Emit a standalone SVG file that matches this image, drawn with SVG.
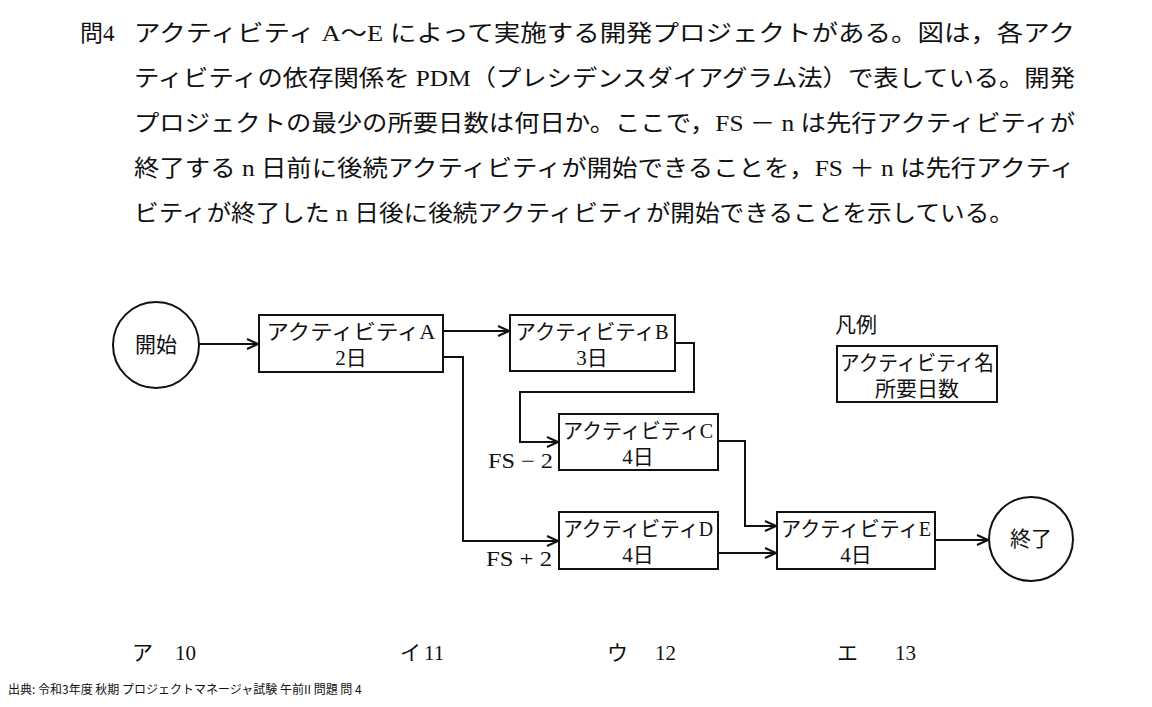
<svg xmlns="http://www.w3.org/2000/svg" width="1152" height="707" viewBox="0 0 1152 707">
<style>
text{font-family:"Liberation Serif","Noto Sans CJK JP",serif;fill:#111}
.q{font-size:23px}
.n{font-size:21px;text-anchor:middle}
.l{font-size:21px}
.box{fill:#fff;stroke:#111;stroke-width:2}
.c{fill:none;stroke:#111;stroke-width:2}
</style>
<defs><marker id="ar" markerWidth="14" markerHeight="12" refX="12" refY="6" orient="auto" markerUnits="userSpaceOnUse"><path d="M1,1 L12,6 L1,11" fill="none" stroke="#111" stroke-width="2"/></marker></defs>
<rect width="1152" height="707" fill="#fff"/>
<g id="question">
<text class="q" x="80" y="41">問4</text>
<text class="q" x="134" y="41" textLength="941" lengthAdjust="spacingAndGlyphs">アクティビティ A～E によって実施する開発プロジェクトがある。図は，各アク</text>
<text class="q" x="134" y="86" textLength="941" lengthAdjust="spacingAndGlyphs">ティビティの依存関係を PDM（プレシデンスダイアグラム法）で表している。開発</text>
<text class="q" x="134" y="131" textLength="941" lengthAdjust="spacingAndGlyphs">プロジェクトの最少の所要日数は何日か。ここで，FS － n は先行アクティビティが</text>
<text class="q" x="134" y="176" textLength="941" lengthAdjust="spacingAndGlyphs">終了する n 日前に後続アクティビティが開始できることを，FS ＋ n は先行アクティ</text>
<text class="q" x="134" y="221" textLength="880" lengthAdjust="spacingAndGlyphs">ビティが終了した n 日後に後続アクティビティが開始できることを示している。</text>
</g>
<g id="connectors">
<path class="c" d="M199,344 H258" marker-end="url(#ar)"/>
<path class="c" d="M443,331 H509" marker-end="url(#ar)"/>
<path class="c" d="M675,343 H694 V392 H520 V442 H558" marker-end="url(#ar)"/>
<path class="c" d="M443,357 H463 V541 H558" marker-end="url(#ar)"/>
<path class="c" d="M718,441 H745 V526 H776" marker-end="url(#ar)"/>
<path class="c" d="M718,553 H776" marker-end="url(#ar)"/>
<path class="c" d="M935,540 H988" marker-end="url(#ar)"/>
<text class="l" x="488" y="468" textLength="65" lengthAdjust="spacingAndGlyphs">FS − 2</text>
<text class="l" x="486" y="566" textLength="66" lengthAdjust="spacingAndGlyphs">FS + 2</text>
</g>
<g id="start"><circle cx="156" cy="345" r="43" class="box"/><text class="n" x="156" y="352">開始</text></g>
<g id="nodeA"><rect class="box" x="259" y="315" width="184" height="57"/><text class="n" x="351" y="339" textLength="169" lengthAdjust="spacingAndGlyphs">アクティビティA</text><text class="n" x="351" y="365">2日</text></g>
<g id="nodeB"><rect class="box" x="510" y="315" width="165" height="56"/><text class="n" x="592" y="339" textLength="153" lengthAdjust="spacingAndGlyphs">アクティビティB</text><text class="n" x="592" y="365">3日</text></g>
<g id="nodeC"><rect class="box" x="559" y="414" width="159" height="56"/><text class="n" x="638" y="438" textLength="150" lengthAdjust="spacingAndGlyphs">アクティビティC</text><text class="n" x="638" y="464">4日</text></g>
<g id="nodeD"><rect class="box" x="559" y="512" width="159" height="57"/><text class="n" x="638" y="536" textLength="150" lengthAdjust="spacingAndGlyphs">アクティビティD</text><text class="n" x="638" y="562">4日</text></g>
<g id="nodeE"><rect class="box" x="777" y="512" width="158" height="57"/><text class="n" x="856" y="536" textLength="150" lengthAdjust="spacingAndGlyphs">アクティビティE</text><text class="n" x="856" y="562">4日</text></g>
<g id="end"><circle cx="1031" cy="539" r="42" class="box"/><text class="n" x="1031" y="546">終了</text></g>
<g id="legend">
<text class="l" x="835" y="332">凡例</text>
<rect class="box" x="837" y="346" width="160" height="56"/>
<text class="n" x="917" y="370" textLength="154" lengthAdjust="spacingAndGlyphs">アクティビティ名</text><text class="n" x="917" y="396">所要日数</text>
</g>
<g id="answers">
<text class="l" x="132" y="660">ア</text><text class="l" x="175" y="660">10</text>
<text class="l" x="400" y="660">イ</text><text class="l" x="424" y="660">11</text>
<text class="l" x="607" y="660">ウ</text><text class="l" x="655" y="660">12</text>
<text class="l" x="837" y="660">エ</text><text class="l" x="895" y="660">13</text>
</g>
<text x="8" y="694" style="font-family:'Noto Sans CJK JP',sans-serif;font-size:12px">出典: 令和3年度 秋期 プロジェクトマネージャ試験 午前II 問題 問 4</text>
</svg>
